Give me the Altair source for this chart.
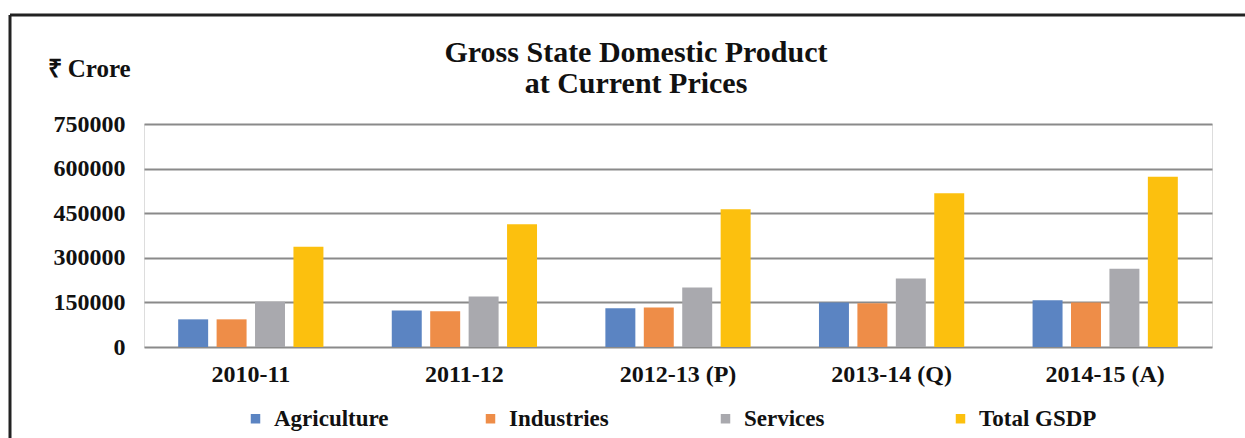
import altair as alt
import pandas as pd

categories = ["2010-11", "2011-12", "2012-13 (P)", "2013-14 (Q)", "2014-15 (A)"]
series = ["Agriculture", "Industries", "Services", "Total GSDP"]
agriculture = [93000, 123000, 130000, 150000, 157000]
industries = [93000, 120000, 133000, 147000, 150000]
services = [152000, 170000, 200000, 230000, 263000]
total_gsdp = [337000, 413000, 463000, 517000, 573000]
colors = ["#5B84C2", "#EE8D48", "#A9A9AE", "#FCC00E"]
y_ticks = [0, 150000, 300000, 450000, 600000, 750000]
title_lines = ["Gross State Domestic Product", "at Current Prices"]

rows = []
for name, vals in zip(series, [agriculture, industries, services, total_gsdp]):
    for c, v in zip(categories, vals):
        rows.append({"Year": c, "Series": name, "Value": v})
df = pd.DataFrame(rows)

FONT = "Liberation Serif"

bars = alt.Chart(df).mark_bar().encode(
    x=alt.X("Year:N", sort=categories,
            scale=alt.Scale(paddingInner=0.32, paddingOuter=0.16),
            axis=alt.Axis(title=None, labelAngle=0, domain=False, ticks=False,
                          labelPadding=15, labelFontSize=24, labelFont=FONT,
                          labelFontWeight="bold", labelColor="#111")),
    xOffset=alt.XOffset("Series:N", sort=series,
                        scale=alt.Scale(paddingInner=0.22, paddingOuter=0)),
    y=alt.Y("Value:Q", scale=alt.Scale(domain=[0, 750000], nice=False),
            axis=alt.Axis(values=y_ticks, format="d", title="₹ Crore",
                          titleAngle=0, titleAlign="left", titleBaseline="alphabetic",
                          titleX=-97, titleY=-48, titleFont=FONT, titleFontSize=25,
                          titleFontWeight="bold", titleColor="#111",
                          domain=False, ticks=False, labelPadding=19,
                          labelFont=FONT, labelFontSize=24, labelFontWeight="bold",
                          labelColor="#111", gridColor="#8a8a8a", gridWidth=2)),
    color=alt.Color("Series:N", sort=series,
                    scale=alt.Scale(domain=series, range=colors),
                    legend=alt.Legend(title=None, orient="none", direction="horizontal",
                                      legendX=100, legendY=283, symbolType="square",
                                      symbolSize=90, symbolStrokeWidth=0,
                                      labelFont=FONT, labelFontSize=23,
                                      labelFontWeight="bold", labelColor="#111",
                                      gridAlign="all", columnPadding=87, labelOffset=7)),
)

title_text = alt.Chart(pd.DataFrame({"a": [0]})).mark_text(
    text=title_lines, font=FONT, fontSize=30, fontWeight="bold", color="#111",
    align="center", baseline="alphabetic", lineHeight=31,
).encode(x=alt.value(492), y=alt.value(-62))

one = pd.DataFrame({"a": [0]})
top_rule = alt.Chart(one).mark_rule(color="#222", strokeWidth=3).encode(
    x=alt.value(-134), x2=alt.value(1101), y=alt.value(-109))
left_rule = alt.Chart(one).mark_rule(color="#222", strokeWidth=3).encode(
    x=alt.value(-134), y=alt.value(-109), y2=alt.value(314))

chart = alt.layer(bars, title_text, top_rule, left_rule).properties(
    width=1068, height=223,
    autosize=alt.AutoSizeParams(type="none"),
    padding={"left": 144, "top": 124, "right": 33, "bottom": 91},
).configure_view(stroke=None).configure(background="white")

chart.save("out.html", embed_options={"renderer": "svg", "actions": False})
